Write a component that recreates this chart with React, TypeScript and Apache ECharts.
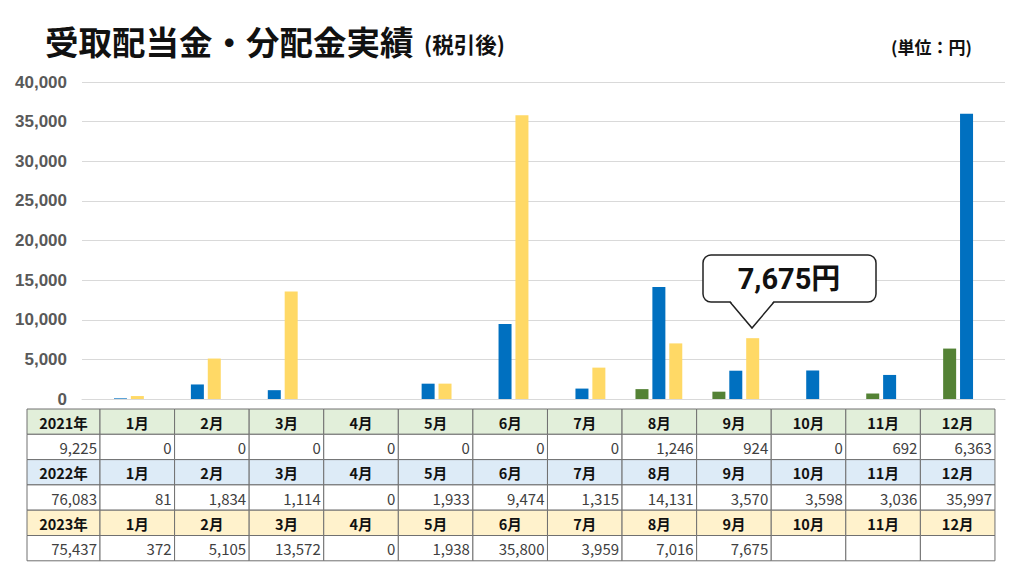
import React, { useEffect, useRef } from 'react';
import * as echarts from 'echarts';

const months = ['1月', '2月', '3月', '4月', '5月', '6月', '7月', '8月', '9月', '10月', '11月', '12月'];
const years = ['2021年', '2022年', '2023年'];
const totals = [9225, 76083, 75437];
const v2021: (number | null)[] = [0, 0, 0, 0, 0, 0, 0, 1246, 924, 0, 692, 6363];
const v2022: (number | null)[] = [81, 1834, 1114, 0, 1933, 9474, 1315, 14131, 3570, 3598, 3036, 35997];
const v2023: (number | null)[] = [372, 5105, 13572, 0, 1938, 35800, 3959, 7016, 7675, null, null, null];
const calloutText = '7,675円';

const barColors = ['#548235', '#0070C0', '#FFD966'];
const headerBg = ['#E2EFDA', '#DDEBF7', '#FFF2CC'];

const fmt = (v: number | null) => (v == null ? '' : v.toLocaleString('en-US'));
const FONT = '"Noto Sans CJK JP", "Noto Sans", sans-serif';

function textEl(x: number, y: number, text: string, opts: any = {}) {
  const align = opts.align || 'center';
  return {
    type: 'text',
    x,
    y,
    z: opts.z || 10,
    style: {
      text,
      fill: opts.fill || '#000',
      fontSize: opts.fontSize || 14,
      fontWeight: opts.fontWeight || 'normal',
      fontFamily: opts.fontFamily || FONT,
      align,
      textAlign: align,
      verticalAlign: 'middle',
      textVerticalAlign: 'middle',
    },
  };
}

function buildTable() {
  const els: any[] = [];
  const left = 27;
  const firstW = 73;
  const colW = 74.58;
  const top = 409;
  const rowH = 25.3;
  const all = [v2021, v2022, v2023];
  for (let y = 0; y < 3; y++) {
    const hy = top + 2 * y * rowH;
    const vy = hy + rowH;
    for (let c = 0; c < 13; c++) {
      const x = c === 0 ? left : left + firstW + (c - 1) * colW;
      const w = c === 0 ? firstW : colW;
      els.push({
        type: 'rect',
        z: 5,
        shape: { x, y: hy, width: w, height: rowH },
        style: { fill: headerBg[y], stroke: '#707070', lineWidth: 1 },
      });
      els.push(
        textEl(x + w / 2, hy + rowH / 2 + 0.5, c === 0 ? years[y] : months[c - 1], {
          fontSize: 14.5,
          fontWeight: 'bold',
          fill: '#111',
        })
      );
      els.push({
        type: 'rect',
        z: 5,
        shape: { x, y: vy, width: w, height: rowH },
        style: { fill: '#ffffff', stroke: '#707070', lineWidth: 1 },
      });
      const val = c === 0 ? totals[y] : all[y][c - 1];
      els.push(
        textEl(x + w - 3, vy + rowH / 2 + 0.5, fmt(val), {
          align: 'right',
          fontSize: 15,
          fill: '#404040',
        })
      );
    }
  }
  return els;
}

function buildCallout() {
  const bx = 703;
  const by = 255;
  const bw = 173;
  const bh = 47;
  const tipX = 752;
  const tipY = 328;
  return [
    {
      type: 'rect',
      z: 20,
      shape: { x: bx, y: by, width: bw, height: bh, r: 8 },
      style: { fill: '#fff', stroke: '#222', lineWidth: 1.5 },
    },
    {
      type: 'polygon',
      z: 21,
      shape: { points: [[730, by + bh - 1.5], [774, by + bh - 1.5], [tipX, tipY]] },
      style: { fill: '#fff' },
    },
    {
      type: 'polyline',
      z: 22,
      shape: { points: [[730, by + bh], [tipX, tipY], [774, by + bh]] },
      style: { stroke: '#222', lineWidth: 1.5, fill: null },
    },
    textEl(789, 279, calloutText, { z: 23, fontSize: 29, fontWeight: 'bold', fill: '#111', fontFamily: 'Roboto, "Noto Sans CJK JP", sans-serif' }),
  ];
}

export default function App() {
  const ref = useRef<HTMLDivElement>(null);
  useEffect(() => {
    if (!ref.current) return;
    const chart = echarts.init(ref.current, null, { renderer: 'svg' });
    const seriesData = [v2021, v2022, v2023];
    chart.setOption({
      animation: false,
      backgroundColor: '#ffffff',
      grid: { left: 82, right: 19, top: 82, bottom: 177, containLabel: false },
      xAxis: {
        type: 'category',
        data: months,
        axisLabel: { show: false },
        axisTick: { show: false },
        axisLine: { show: true, lineStyle: { color: '#d9d9d9' } },
      },
      yAxis: {
        type: 'value',
        min: 0,
        max: 40000,
        interval: 5000,
        axisLine: { show: false },
        axisTick: { show: false },
        splitLine: { lineStyle: { color: '#d9d9d9' } },
        axisLabel: {
          margin: 15,
          color: '#595959',
          fontSize: 17,
          fontWeight: 'bold',
          fontFamily: '"Liberation Sans", Arial, sans-serif',
          formatter: (v: number) => v.toLocaleString('en-US'),
        },
      },
      series: seriesData.map((d, i) => ({
        name: years[i],
        type: 'bar',
        data: d,
        barWidth: 13,
        barGap: '30%',
        itemStyle: { color: barColors[i] },
      })),
      graphic: [
        textEl(45, 40, '受取配当金・分配金実績', { align: 'left', fontSize: 33.5, fontWeight: 'bold', fill: '#111' }),
        textEl(424, 43, '(税引後)', { align: 'left', fontSize: 21.5, fontWeight: 'bold', fill: '#111' }),
        textEl(891, 46, '(単位：円)', { align: 'left', fontSize: 17, fontWeight: 'bold', fill: '#111' }),
        ...buildCallout(),
        ...buildTable(),
      ],
    });
    return () => chart.dispose();
  }, []);
  return (
    <div
      ref={ref}
      style={{ position: 'fixed', left: 0, top: 0, width: 1024, height: 576, background: '#fff' }}
    />
  );
}
